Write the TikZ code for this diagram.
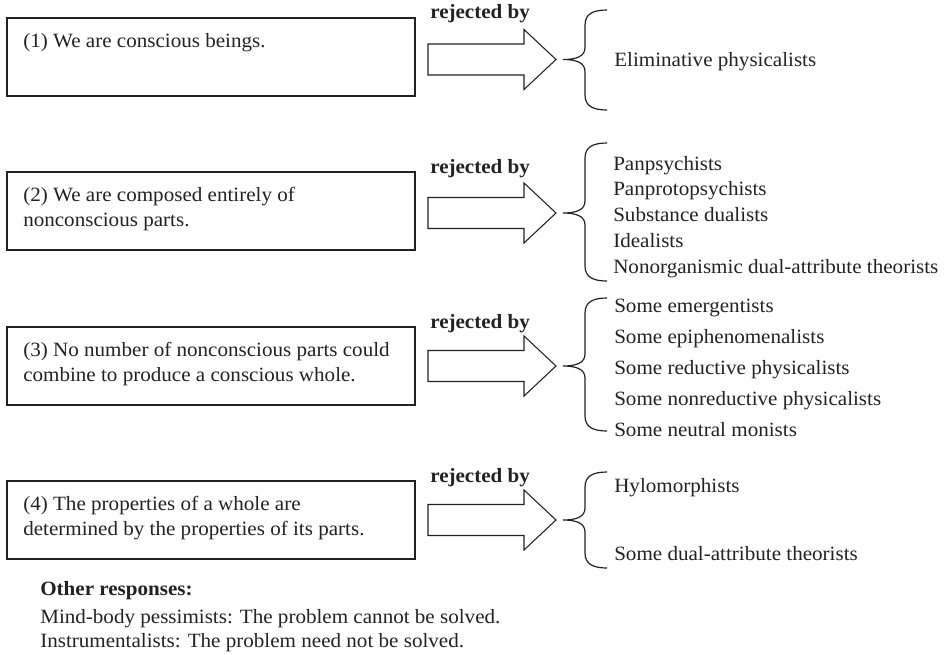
\documentclass[tikz,border=0pt]{standalone}
\usepackage{fontspec}
\setmainfont{Liberation Serif}[FakeStretch=1.04]
\usetikzlibrary{calc}
\definecolor{ink}{HTML}{222222}
\tikzset{
  box/.style={draw=ink, line width=1pt, minimum width=306pt, minimum height=58.5pt, inner sep=0pt},
  txt/.style={anchor=base west, inner sep=0pt, text=ink, font=\fontsize{15.2pt}{18.75pt}\selectfont},
  rej/.style={txt, font=\fontsize{15.2pt}{18.75pt}\selectfont\bfseries},
  blockarrow/.style={draw=ink, line width=0.8pt, line join=miter},
  bracestyle/.style={draw=ink, line width=0.9pt}
}
\newcommand\BlockArrow[1]{%
  \draw[blockarrow] (428,{#1-15.5}) -- (524,{#1-15.5}) -- (524,{#1-30}) -- (556,#1)
    -- (524,{#1+30}) -- (524,{#1+15.5}) -- (428,{#1+15.5}) -- cycle;}
\newcommand\CurlyBrace[3]{%
  \draw[bracestyle] (607,#1) .. controls (593,#1) and (585,{#1+4}) .. (585,{#1+15})
    -- (585,{#2-12}) .. controls (585,{#2-3}) and (576,#2) .. (563,#2)
    .. controls (576,#2) and (585,{#2+3}) .. (585,{#2+12})
    -- (585,{#3-15}) .. controls (585,{#3-4}) and (593,#3) .. (607,#3);}
\begin{document}
\begin{tikzpicture}[x=0.75pt, y=-0.75pt]
\useasboundingbox (0,0) rectangle (944,654);

% boxes
\node[box] (b1) at (211,57) {};
\node[box] (b2) at (211,211) {};
\node[box] (b3) at (211,366) {};
\node[box] (b4) at (211,520) {};

\node[txt] (t1) at (23,47.5) {(1) We are conscious beings.};
\node[txt] (t2a) at (23,201.5) {(2) We are composed entirely of};
\node[txt] (t2b) at (23,226.5) {nonconscious parts.};
\node[txt] (t3a) at (23,356) {(3) No number of nonconscious parts could};
\node[txt] (t3b) at (23,381) {combine to produce a conscious whole.};
\node[txt] (t4a) at (23,510) {(4) The properties of a whole are};
\node[txt] (t4b) at (23,535) {determined by the properties of its parts.};

% rejected by
\node[rej] (r1) at (430,18) {rejected by};
\node[rej] (r2) at (430,173) {rejected by};
\node[rej] (r3) at (430,328) {rejected by};
\node[rej] (r4) at (430,482) {rejected by};

% arrows
\BlockArrow{59.5}
\BlockArrow{213}
\BlockArrow{366}
\BlockArrow{520}

% braces
\CurlyBrace{10}{59.5}{110}
\CurlyBrace{143}{213}{281}
\CurlyBrace{298}{366}{431}
\CurlyBrace{472}{520}{568}

% groups
\node[txt] (g1) at (614,66) {Eliminative physicalists};

\node[txt] (g2a) at (613,170) {Panpsychists};
\node[txt] (g2b) at (613,195.75) {Panprotopsychists};
\node[txt] (g2c) at (613,221.5) {Substance dualists};
\node[txt] (g2d) at (613,247.25) {Idealists};
\node[txt] (g2e) at (613,273) {Nonorganismic dual-attribute theorists};

\node[txt] (g3a) at (614,312) {Some emergentists};
\node[txt] (g3b) at (614,343) {Some epiphenomenalists};
\node[txt] (g3c) at (614,374) {Some reductive physicalists};
\node[txt] (g3d) at (614,405) {Some nonreductive physicalists};
\node[txt] (g3e) at (614,436) {Some neutral monists};

\node[txt] (g4a) at (614,492) {Hylomorphists};
\node[txt] (g4b) at (614,560) {Some dual-attribute theorists};

% other responses
\node[rej] (o1) at (40,595) {Other responses:};
\node[txt] (o2) at (40,623) {Mind-body pessimists: The problem cannot be solved.};
\node[txt] (o3) at (40,647) {Instrumentalists: The problem need not be solved.};
\end{tikzpicture}
\end{document}
